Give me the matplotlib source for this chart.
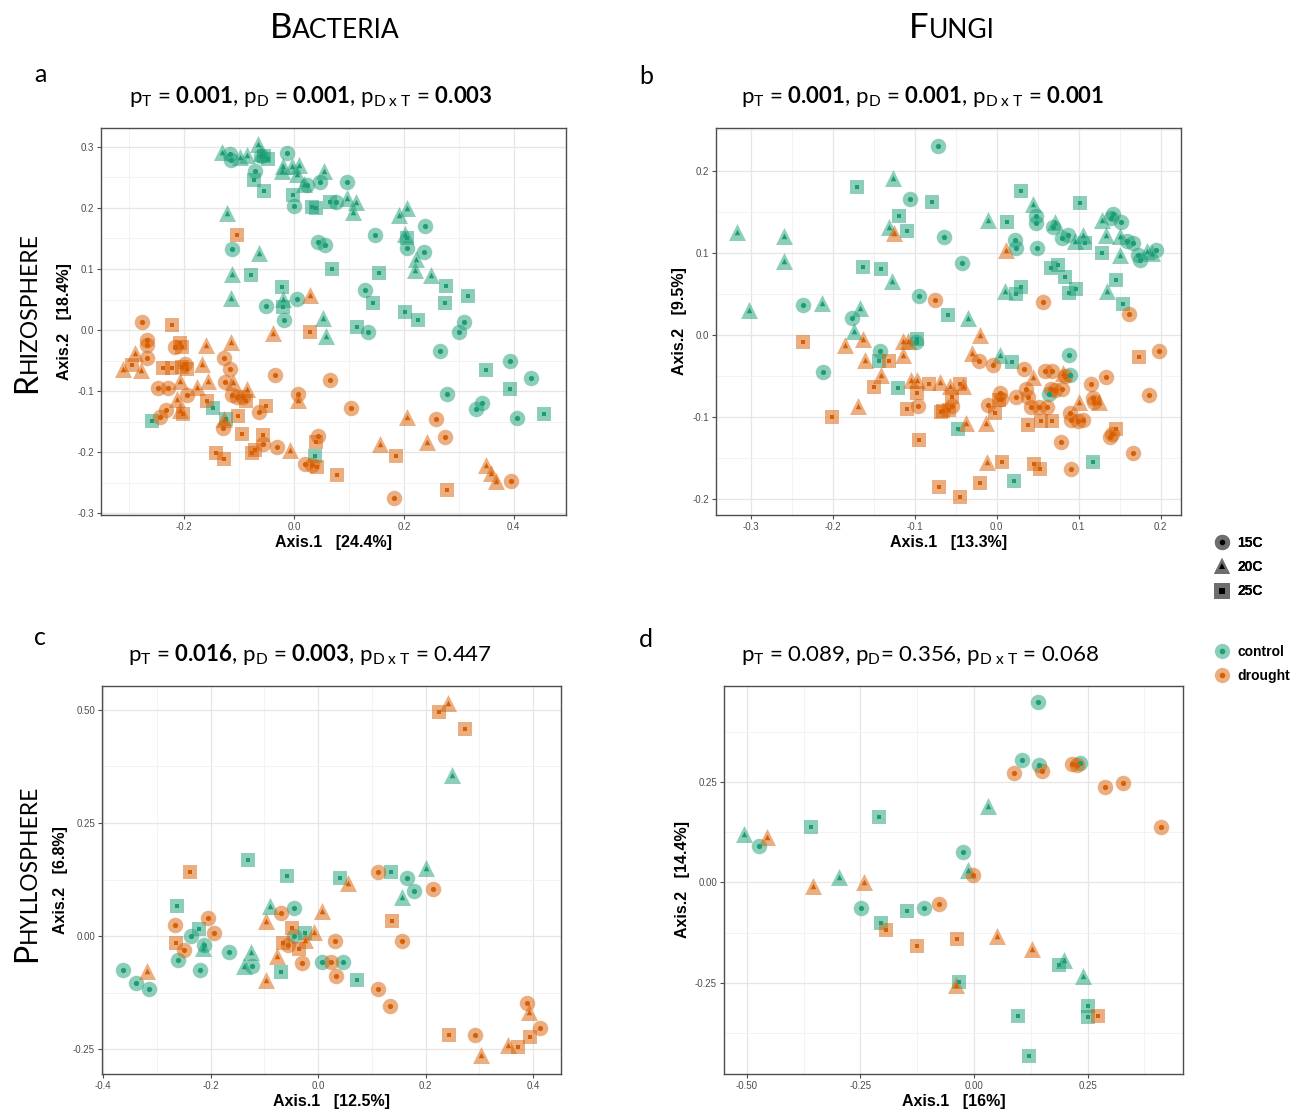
import matplotlib
matplotlib.use('Agg')
import matplotlib.pyplot as plt
from matplotlib.lines import Line2D
from matplotlib.legend_handler import HandlerTuple
from matplotlib.ticker import MultipleLocator, FormatStrFormatter

plt.rcParams['font.family'] = ['Liberation Sans', 'DejaVu Sans']
plt.rcParams['axes.unicode_minus'] = False
plt.rcParams['mathtext.fontset'] = 'custom'
plt.rcParams['mathtext.rm'] = 'Lato'
plt.rcParams['mathtext.bf'] = 'Lato:bold'
plt.rcParams['mathtext.it'] = 'Lato:italic'

# ---------------- data ----------------
# panel a : bacteria, rhizosphere
a_control_15 = [(-0.116, 0.288), (-0.115, 0.278), (-0.060, 0.285), (-0.013, 0.290), (-0.071, 0.260),
                (0.000, 0.204), (0.024, 0.237), (0.047, 0.242), (0.076, 0.209), (-0.112, 0.132),
                (-0.050, 0.040), (0.005, 0.051), (-0.018, 0.016), (0.097, 0.242), (0.044, 0.145),
                (0.056, 0.140), (0.148, 0.156), (0.238, 0.171), (0.205, 0.134), (0.236, 0.128),
                (0.129, 0.066), (0.310, 0.013), (0.135, -0.003), (0.301, -0.004), (0.265, -0.034),
                (0.393, -0.051), (0.432, -0.079), (0.279, -0.105), (0.332, -0.130), (0.343, -0.119),
                (0.405, -0.144)]
a_control_20 = [(-0.131, 0.292), (-0.099, 0.284), (-0.086, 0.287), (-0.065, 0.304), (-0.060, 0.290),
                (-0.022, 0.260), (-0.004, 0.268), (0.010, 0.270), (0.005, 0.255), (-0.019, 0.268),
                (0.018, 0.240), (0.055, 0.260), (-0.122, 0.191), (-0.063, 0.127), (-0.113, 0.092),
                (-0.115, 0.052), (-0.019, 0.051), (0.052, 0.019), (0.097, 0.217), (0.113, 0.209),
                (0.107, 0.193), (0.192, 0.189), (0.205, 0.200), (0.202, 0.158), (0.222, 0.116),
                (0.220, 0.098), (0.249, 0.090), (0.059, -0.010)]
a_control_25 = [(-0.055, 0.285), (-0.048, 0.280), (-0.073, 0.246), (-0.055, 0.227), (-0.002, 0.221),
                (0.032, 0.202), (0.041, 0.200), (0.065, 0.209), (0.070, 0.100), (-0.079, 0.090),
                (-0.022, 0.071), (-0.019, 0.038), (0.205, 0.150), (0.155, 0.093), (0.276, 0.072),
                (0.317, 0.055), (0.144, 0.044), (0.275, 0.044), (0.202, 0.030), (0.225, 0.016),
                (0.114, 0.005), (0.350, -0.066), (0.393, -0.097), (0.455, -0.138), (-0.259, -0.149),
                (-0.147, -0.127), (-0.124, -0.146), (0.038, -0.206)]
a_drought_15 = [(-0.277, 0.013), (-0.268, -0.016), (-0.267, -0.024), (-0.216, -0.027), (-0.268, -0.046),
                (-0.198, -0.056), (-0.127, -0.045), (-0.116, -0.064), (-0.035, -0.073), (0.065, -0.082),
                (-0.125, -0.085), (-0.247, -0.095), (-0.229, -0.095), (-0.195, -0.107), (-0.113, -0.107),
                (-0.104, -0.110), (-0.092, -0.109), (0.008, -0.105), (-0.063, -0.134), (-0.233, -0.131),
                (-0.244, -0.143), (-0.129, -0.161), (-0.056, -0.187), (-0.030, -0.191), (0.044, -0.174),
                (0.020, -0.220), (0.032, -0.221), (0.104, -0.128), (0.258, -0.145), (0.275, -0.176),
                (0.395, -0.247), (0.182, -0.275)]
a_drought_20 = [(0.029, 0.058), (-0.038, -0.005), (-0.160, -0.024), (-0.115, -0.019), (-0.289, -0.037),
                (-0.311, -0.063), (-0.279, -0.066), (-0.168, -0.055), (-0.207, -0.084), (-0.177, -0.094),
                (-0.156, -0.084), (-0.110, -0.085), (-0.086, -0.096), (-0.213, -0.113), (0.007, -0.114),
                (-0.207, -0.131), (-0.127, -0.145), (-0.007, -0.197), (0.205, -0.142), (0.156, -0.186),
                (0.242, -0.184), (0.350, -0.221), (0.358, -0.235), (0.367, -0.247)]
a_drought_25 = [(-0.104, 0.156), (-0.221, 0.008), (0.029, -0.003), (-0.207, -0.022), (-0.204, -0.027),
                (-0.295, -0.058), (-0.238, -0.062), (-0.221, -0.062), (-0.204, -0.060), (-0.194, -0.063),
                (-0.087, -0.116), (-0.159, -0.116), (-0.051, -0.125), (-0.201, -0.138), (-0.101, -0.141),
                (-0.095, -0.171), (-0.056, -0.172), (-0.142, -0.201), (-0.127, -0.212), (-0.077, -0.201),
                (-0.071, -0.197), (0.040, -0.183), (0.042, -0.224), (0.078, -0.238), (0.185, -0.206),
                (0.279, -0.262)]

# panel b : fungi, rhizosphere
b_control_15 = [(-0.072, 0.230), (-0.106, 0.166), (-0.064, 0.119), (-0.095, 0.048), (-0.237, 0.036),
                (-0.177, 0.021), (0.048, 0.145), (0.048, 0.136), (0.069, 0.131), (0.022, 0.116),
                (0.024, 0.106), (0.049, 0.106), (0.080, 0.118), (0.087, 0.122), (0.142, 0.147),
                (0.140, 0.142), (0.152, 0.138), (0.159, 0.114), (0.166, 0.112), (0.173, 0.097),
                (0.175, 0.091), (0.195, 0.104), (-0.042, 0.088), (-0.143, -0.020), (-0.099, -0.009),
                (-0.212, -0.045), (0.088, -0.024), (0.090, -0.049), (0.064, -0.072)]
b_control_20 = [(-0.127, 0.191), (-0.132, 0.131), (-0.317, 0.126), (-0.260, 0.120), (-0.260, 0.090),
                (-0.128, 0.066), (-0.303, 0.031), (-0.214, 0.039), (-0.167, 0.033), (0.044, 0.160),
                (-0.011, 0.140), (0.071, 0.138), (0.095, 0.114), (0.105, 0.122), (0.128, 0.140),
                (0.133, 0.122), (0.150, 0.120), (0.150, 0.098), (0.184, 0.102), (0.189, 0.100),
                (0.010, 0.054), (0.134, 0.054), (-0.035, 0.021), (-0.175, 0.005), (0.004, -0.024)]
b_control_25 = [(-0.171, 0.180), (-0.079, 0.162), (-0.119, 0.145), (-0.110, 0.127), (-0.163, 0.083),
                (-0.141, 0.080), (-0.060, 0.024), (0.030, 0.175), (0.102, 0.161), (0.013, 0.138),
                (0.108, 0.112), (0.129, 0.100), (0.066, 0.082), (0.075, 0.085), (0.083, 0.071),
                (0.145, 0.067), (0.023, 0.050), (0.029, 0.058), (0.088, 0.051), (0.097, 0.056),
                (0.154, 0.038), (-0.144, -0.031), (-0.098, -0.005), (-0.121, -0.064), (0.019, -0.033),
                (-0.047, -0.114), (0.117, -0.154), (0.021, -0.178)]
b_drought_15 = [(-0.075, 0.043), (0.056, 0.040), (0.161, 0.026), (-0.096, -0.086), (-0.022, -0.031),
                (-0.005, -0.037), (0.033, -0.041), (0.059, -0.044), (0.067, -0.044), (0.083, -0.050),
                (0.198, -0.020), (0.115, -0.060), (0.133, -0.051), (0.186, -0.073), (0.117, -0.076),
                (0.119, -0.081), (0.004, -0.071), (0.005, -0.078), (0.023, -0.075), (0.036, -0.066),
                (0.038, -0.075), (0.066, -0.066), (0.071, -0.067), (0.080, -0.066), (0.042, -0.088),
                (0.052, -0.087), (0.061, -0.088), (-0.011, -0.085), (0.089, -0.095), (0.091, -0.103),
                (0.099, -0.104), (0.105, -0.103), (0.141, -0.120), (0.138, -0.124), (0.078, -0.130),
                (0.166, -0.144), (0.091, -0.163), (-0.055, -0.086)]
b_drought_20 = [(-0.125, 0.124), (0.011, 0.103), (-0.185, -0.012), (-0.163, -0.005), (-0.161, -0.030),
                (-0.115, -0.007), (-0.108, -0.007), (-0.115, -0.024), (-0.141, -0.049), (-0.105, -0.055),
                (-0.098, -0.055), (-0.069, -0.057), (-0.169, -0.086), (-0.021, 0.000), (-0.030, -0.022),
                (0.044, -0.051), (0.081, -0.046), (0.125, -0.081), (0.101, -0.081), (-0.013, -0.107),
                (-0.038, -0.107), (-0.012, -0.154), (-0.057, -0.062), (-0.041, -0.062)]
b_drought_25 = [(-0.237, -0.009), (-0.132, -0.031), (-0.150, -0.063), (-0.097, -0.070), (-0.083, -0.059),
                (-0.110, -0.090), (-0.068, -0.094), (-0.201, -0.100), (-0.095, -0.128), (-0.071, -0.185),
                (0.174, -0.027), (-0.002, -0.095), (0.003, -0.079), (0.038, -0.110), (0.054, -0.105),
                (0.068, -0.105), (0.145, -0.114), (0.006, -0.154), (0.046, -0.157), (0.053, -0.163),
                (-0.021, -0.180), (-0.045, -0.197), (-0.045, -0.059), (-0.055, -0.075), (-0.066, -0.093),
                (-0.059, -0.091)]

# panel c : bacteria, phyllosphere
c_control_15 = [(-0.045, 0.063), (0.165, 0.129), (0.179, 0.100), (-0.236, 0.000), (-0.213, -0.020),
                (-0.260, -0.053), (-0.220, -0.075), (-0.362, -0.075), (-0.339, -0.103), (-0.314, -0.116),
                (-0.165, -0.036), (-0.122, -0.066), (-0.045, 0.000), (0.007, -0.057), (0.047, -0.057)]
c_control_20 = [(0.250, 0.356), (0.200, 0.150), (0.157, 0.086), (-0.215, -0.027), (-0.125, -0.035),
                (-0.137, -0.066), (-0.089, 0.066)]
c_control_25 = [(-0.131, 0.168), (-0.058, 0.133), (0.041, 0.129), (0.136, 0.141), (-0.262, 0.067),
                (-0.221, 0.015), (-0.024, 0.007), (-0.069, -0.079), (0.072, -0.097)]
c_drought_15 = [(0.111, 0.141), (0.213, 0.103), (-0.267, 0.024), (-0.205, 0.041), (-0.193, 0.007),
                (-0.249, -0.031), (-0.069, 0.052), (-0.056, -0.020), (-0.030, -0.059), (0.032, -0.011),
                (0.024, -0.057), (0.033, -0.088), (0.157, -0.011), (0.111, -0.118), (0.134, -0.155),
                (0.389, -0.149), (0.412, -0.203), (0.292, -0.218)]
c_drought_20 = [(0.242, 0.516), (0.056, 0.118), (-0.319, -0.077), (-0.097, 0.034), (0.007, 0.056),
                (-0.007, 0.008), (-0.024, -0.009), (-0.077, -0.044), (-0.097, -0.097), (0.393, -0.167),
                (0.353, -0.241), (0.303, -0.263)]
c_drought_25 = [(0.225, 0.496), (0.273, 0.459), (-0.238, 0.142), (-0.265, -0.016), (-0.048, 0.018),
                (-0.065, -0.015), (-0.035, -0.029), (0.137, 0.034), (0.244, -0.218), (0.394, -0.223),
                (0.372, -0.245)]

# panel d : fungi, phyllosphere
d_control_15 = [(0.141, 0.449), (0.105, 0.306), (0.144, 0.293), (0.233, 0.299), (-0.474, 0.091),
                (-0.025, 0.076), (-0.249, -0.063), (-0.111, -0.065)]
d_control_20 = [(0.030, 0.191), (-0.505, 0.122), (-0.012, 0.030), (-0.296, 0.014), (0.199, -0.193),
                (0.240, -0.234)]
d_control_25 = [(-0.209, 0.164), (-0.358, 0.138), (-0.147, -0.072), (-0.205, -0.101), (0.187, -0.207),
                (-0.032, -0.249), (0.250, -0.308), (0.250, -0.336), (0.096, -0.333), (0.121, -0.433)]
d_drought_15 = [(0.149, 0.277), (0.089, 0.273), (0.215, 0.295), (0.227, 0.293), (0.288, 0.239),
                (0.328, 0.248), (0.411, 0.138), (-0.002, 0.018), (-0.078, -0.055)]
d_drought_20 = [(-0.456, 0.113), (-0.355, -0.009), (-0.243, 0.001), (0.050, -0.134), (0.127, -0.166),
                (-0.040, -0.255)]
d_drought_25 = [(-0.194, -0.118), (-0.125, -0.158), (-0.037, -0.140), (0.273, -0.334)]

titles = [
    r'p$_{\mathregular{T}}$ = $\mathbf{0.001}$, p$_{\mathregular{D}}$ = $\mathbf{0.001}$, p$_{\mathregular{D\ x\ T}}$ = $\mathbf{0.003}$',
    r'p$_{\mathregular{T}}$ = $\mathbf{0.001}$, p$_{\mathregular{D}}$ = $\mathbf{0.001}$, p$_{\mathregular{D\ x\ T}}$ = $\mathbf{0.001}$',
    r'p$_{\mathregular{T}}$ = $\mathbf{0.016}$, p$_{\mathregular{D}}$ = $\mathbf{0.003}$, p$_{\mathregular{D\ x\ T}}$ = 0.447',
    r'p$_{\mathregular{T}}$ = 0.089, p$_{\mathregular{D}}$= 0.356, p$_{\mathregular{D\ x\ T}}$ = 0.068',
]
xlabels = ['Axis.1   [24.4%]', 'Axis.1   [13.3%]', 'Axis.1   [12.5%]', 'Axis.1   [16%]']
ylabels = ['Axis.2   [18.4%]', 'Axis.2   [9.5%]', 'Axis.2   [6.8%]', 'Axis.2   [14.4%]']
letters = ['a', 'b', 'c', 'd']

W, H = 1309, 1112
fig = plt.figure(figsize=(W / 100, H / 100), dpi=100)

teal = '#1B9E77'
orange = '#D95F02'
shape = {15: ('o', 125, 14), 20: ('^', 150, 16), 25: ('s', 105, 11)}


def px(x, y):
    return x / W, 1 - y / H


def small_caps(word, cx, cy, big, small, rot=0):
    r = fig.canvas.get_renderer()
    t1 = fig.text(0, 0, word[0], fontsize=big, family='Lato')
    t2 = fig.text(0, 0, word[1:], fontsize=small, family='Lato')
    w1 = t1.get_window_extent(r).width
    w2 = t2.get_window_extent(r).width
    if rot == 0:
        x0 = cx - (w1 + w2) / 2
        t1.set_position(px(x0, cy))
        t2.set_position(px(x0 + w1, cy))
    else:
        y0 = cy + (w1 + w2) / 2
        t1.set_position(px(cx, y0))
        t2.set_position(px(cx, y0 - w1))
    for t in (t1, t2):
        t.set_ha('left')
        t.set_va('baseline')
        t.set_rotation(rot)
        t.set_rotation_mode('anchor')


panels = [
    dict(data={('control', 15): a_control_15, ('control', 20): a_control_20, ('control', 25): a_control_25,
               ('drought', 15): a_drought_15, ('drought', 20): a_drought_20, ('drought', 25): a_drought_25},
         rect=(101, 128, 566, 515), xlim=(-0.351, 0.495), ylim=(-0.303, 0.331),
         xmaj=0.2, ymaj=0.1, fmt='%.1f', title_x=311, title_y=103, letter=(34, 82)),
    dict(data={('control', 15): b_control_15, ('control', 20): b_control_20, ('control', 25): b_control_25,
               ('drought', 15): b_drought_15, ('drought', 20): b_drought_20, ('drought', 25): b_drought_25},
         rect=(716, 128, 1181, 515), xlim=(-0.343, 0.225), ylim=(-0.219, 0.252),
         xmaj=0.1, ymaj=0.1, fmt='%.1f', title_x=923, title_y=103, letter=(639, 84)),
    dict(data={('control', 15): c_control_15, ('control', 20): c_control_20, ('control', 25): c_control_25,
               ('drought', 15): c_drought_15, ('drought', 20): c_drought_20, ('drought', 25): c_drought_25},
         rect=(102, 686, 561, 1074), xlim=(-0.402, 0.452), ylim=(-0.305, 0.553),
         xmaj=0.2, ymaj=0.25, fmt=('%.1f', '%.2f'), title_x=310, title_y=661, letter=(34, 645)),
    dict(data={('control', 15): d_control_15, ('control', 20): d_control_20, ('control', 25): d_control_25,
               ('drought', 15): d_drought_15, ('drought', 20): d_drought_20, ('drought', 25): d_drought_25},
         rect=(724, 686, 1183, 1074), xlim=(-0.55, 0.46), ylim=(-0.478, 0.49),
         xmaj=0.25, ymaj=0.25, fmt='%.2f', title_x=920, title_y=661, letter=(639, 647)),
]

for i, p in enumerate(panels):
    x0, y0, x1, y1 = p['rect']
    ax = fig.add_axes([x0 / W, 1 - y1 / H, (x1 - x0) / W, (y1 - y0) / H])
    for (trt, temp), pts in p['data'].items():
        col = teal if trt == 'control' else orange
        m, s_out, s_in = shape[temp]
        xs = [q[0] for q in pts]
        ys = [q[1] for q in pts]
        ax.scatter(xs, ys, marker=m, s=s_out, color=col, alpha=0.5, linewidths=0, zorder=3)
        ax.scatter(xs, ys, marker=m, s=s_in, color=col, linewidths=0, zorder=4)
    ax.set_xlim(*p['xlim'])
    ax.set_ylim(*p['ylim'])
    ax.xaxis.set_major_locator(MultipleLocator(p['xmaj']))
    ax.xaxis.set_minor_locator(MultipleLocator(p['xmaj'] / 2))
    ax.yaxis.set_major_locator(MultipleLocator(p['ymaj']))
    ax.yaxis.set_minor_locator(MultipleLocator(p['ymaj'] / 2))
    fx, fy = p['fmt'] if isinstance(p['fmt'], tuple) else (p['fmt'], p['fmt'])
    ax.xaxis.set_major_formatter(FormatStrFormatter(fx))
    ax.yaxis.set_major_formatter(FormatStrFormatter(fy))
    ax.grid(which='major', color='#e6e6e6', lw=0.9, zorder=0)
    ax.grid(which='minor', color='#f1f1f1', lw=0.6, zorder=0)
    ax.set_axisbelow(True)
    for sp in ax.spines.values():
        sp.set_color('#4d4d4d')
        sp.set_linewidth(1.0)
    ax.tick_params(which='major', length=3, width=0.8, color='#4d4d4d', labelsize=7,
                   labelcolor='#4d4d4d', pad=2)
    ax.tick_params(which='minor', length=0)
    ax.set_xlabel(xlabels[i], fontsize=11.5, fontweight='bold', labelpad=2)
    ax.set_ylabel(ylabels[i], fontsize=11.5, fontweight='bold', labelpad=4)
    fig.text(*px(p['title_x'], p['title_y']), titles[i], family='Lato', fontsize=16,
             ha='center', va='baseline')
    fig.text(*px(*p['letter']), letters[i], family='Lato', fontsize=18, ha='left', va='baseline')

# column / row headers in small caps
small_caps('BACTERIA', 335, 38, 25, 19)
small_caps('FUNGI', 952, 38, 25, 19)
small_caps('RHIZOSPHERE', 36, 313, 23, 16.5, rot=90)
small_caps('PHYLLOSPHERE', 36, 873, 23, 16.5, rot=90)

# legends
grey = '#6e6e6e'
hmap = {tuple: HandlerTuple(ndivide=1, pad=0)}
temp_handles = []
for temp in (15, 20, 25):
    m = shape[temp][0]
    outer = Line2D([], [], marker=m, ls='', ms=11 if m != '^' else 12, color=grey, markeredgewidth=0)
    inner = Line2D([], [], marker=m, ls='', ms=4, color='black', markeredgewidth=0)
    temp_handles.append((outer, inner))
leg1 = fig.legend(temp_handles, ['15C', '20C', '25C'], handler_map=hmap,
                  loc='upper left', bbox_to_anchor=px(1207, 530), frameon=False,
                  prop={'weight': 'bold', 'size': 10}, handlelength=1.3, handletextpad=0.5,
                  labelspacing=0.75, borderaxespad=0)
trt_handles = []
for col in (teal, orange):
    outer = Line2D([], [], marker='o', ls='', ms=11, color=col, alpha=0.5, markeredgewidth=0)
    inner = Line2D([], [], marker='o', ls='', ms=4, color=col, markeredgewidth=0)
    trt_handles.append((outer, inner))
fig.legend(trt_handles, ['control', 'drought'], handler_map=hmap,
           loc='upper left', bbox_to_anchor=px(1207, 639), frameon=False,
           prop={'weight': 'bold', 'size': 10}, handlelength=1.3, handletextpad=0.5,
           labelspacing=0.75, borderaxespad=0)
fig.add_artist(leg1)

fig.savefig('out.png', dpi=100)
